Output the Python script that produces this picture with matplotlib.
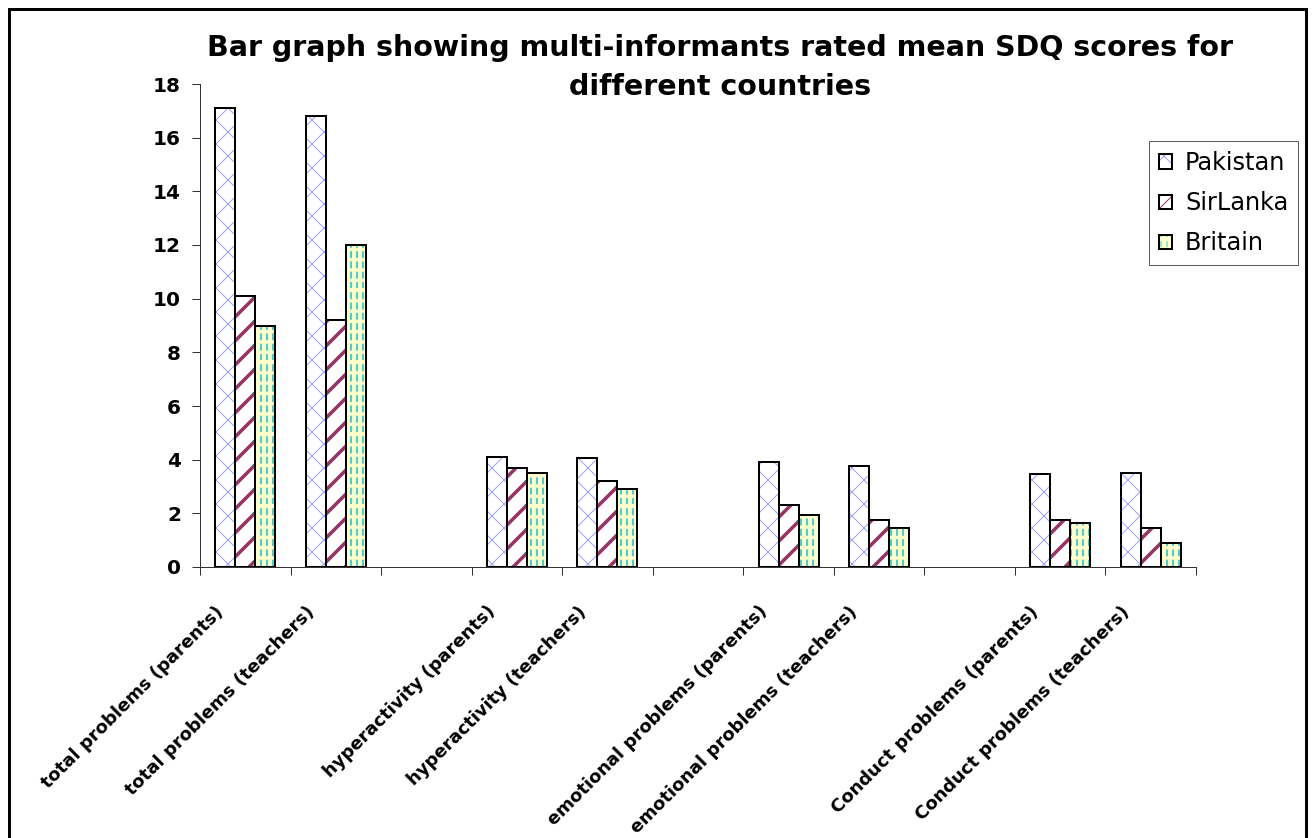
#!/usr/bin/env python3

import matplotlib
matplotlib.use('Agg')
import matplotlib.hatch as mhatch
import matplotlib.pyplot as plt
import matplotlib.transforms as mtrans
from matplotlib.patches import Patch, Rectangle
from matplotlib.path import Path
import numpy as np

nan = np.nan

categories = ['total problems (parents)', 'total problems (teachers)', '',
              'hyperactivity (parents)', 'hyperactivity (teachers)', '',
              'emotional problems (parents)', 'emotional problems (teachers)', '',
              'Conduct problems (parents)', 'Conduct problems (teachers)']
pakistan = [17.1, 16.8, nan, 4.1, 4.05, nan, 3.9, 3.75, nan, 3.45, 3.5]
sirlanka = [10.1, 9.2, nan, 3.7, 3.2, nan, 2.3, 1.75, nan, 1.75, 1.45]
britain = [9.0, 12.0, nan, 3.5, 2.9, nan, 1.95, 1.45, nan, 1.65, 0.9]
series_names = ['Pakistan', 'SirLanka', 'Britain']
yticks = [0, 2, 4, 6, 8, 10, 12, 14, 16, 18]


class DashedVerticalHatch(mhatch.HatchPatternBase):
    # '|' drawn as dashed lines, like the old spreadsheet fill
    n_dash = 7

    def __init__(self, hatch, density):
        self.num_lines = int((hatch.count('|') + hatch.count('+')) * density)
        self.num_vertices = self.num_lines * self.n_dash * 2

    def set_vertices_and_codes(self, vertices, codes):
        xs = (np.arange(self.num_lines) + 0.5) / self.num_lines
        ys = np.arange(self.n_dash) / self.n_dash
        xx, yy = np.meshgrid(xs, ys, indexing='ij')
        xx = xx.ravel()
        yy = yy.ravel()
        vertices[0::2, 0] = xx
        vertices[0::2, 1] = yy
        vertices[1::2, 0] = xx
        vertices[1::2, 1] = yy + 0.5 / self.n_dash
        codes[0::2] = Path.MOVETO
        codes[1::2] = Path.LINETO


mhatch._hatch_types[mhatch._hatch_types.index(mhatch.VerticalHatch)] = DashedVerticalHatch

# (face colour, hatch colour, hatch, hatch width, legend hatch)
styles = [('white', '#A0A0FF', 'x', 1.0, 'x'),
          ('white', '#993366', '/', 3.5, '//'),
          ('#FFFFCC', '#33CCCC', '||', 1.8, '||')]

plt.rcParams['font.family'] = ['DejaVu Sans']

DPI = 72
fig = plt.figure(figsize=(1312 / DPI, 838 / DPI), dpi=DPI)
ax = fig.add_axes([200 / 1312, 1 - 567 / 838, 996 / 1312, 483 / 838])

x = np.arange(len(categories)) + 0.5
w = 0.221
handles = []
for i, (vals, name) in enumerate(zip([pakistan, sirlanka, britain], series_names)):
    face, hcol, hatch, hlw, lhatch = styles[i]
    xs = x + (i - 1) * w
    bars = ax.bar(xs, vals, w, color=face, edgecolor=hcol, linewidth=0, hatch=hatch)
    for b in bars:
        if hasattr(b, 'set_hatch_linewidth'):
            b.set_hatch_linewidth(hlw)
    ax.bar(xs, vals, w, fill=False, edgecolor='black', linewidth=2)
    hp = Patch(facecolor=face, edgecolor=hcol, linewidth=0, hatch=lhatch)
    if hasattr(hp, 'set_hatch_linewidth'):
        hp.set_hatch_linewidth(hlw)
    op = Patch(fill=False, edgecolor='black', linewidth=2)
    handles.append((hp, op))

ax.set_xlim(0, len(categories))
ax.set_ylim(0, 18)
ax.set_yticks(yticks)
ax.set_yticklabels([str(t) for t in yticks], fontsize=20, fontweight='bold')
ax.set_xticks(np.arange(len(categories) + 1))
ax.set_xticklabels([])
ax.set_xticks(x, minor=True)
ax.set_xticklabels(categories, minor=True, rotation=45, ha='right', va='center',
                   rotation_mode='anchor', fontsize=18, fontweight='bold')
ax.tick_params(axis='x', which='minor', length=0, pad=42)
ax.tick_params(axis='both', which='major', length=8, width=1, color='#333333', direction='out')
ax.tick_params(axis='y', pad=11)
shift = mtrans.ScaledTranslation(-24 / DPI, 0, fig.dpi_scale_trans)
for lab in ax.get_xticklabels(minor=True):
    lab.set_transform(lab.get_transform() + shift)
for s in ['top', 'right']:
    ax.spines[s].set_visible(False)
for s in ['left', 'bottom']:
    ax.spines[s].set_linewidth(1)
    ax.spines[s].set_color('#333333')

fig.text(720 / 1312, 1 - 95 / 838,
         'Bar graph showing multi-informants rated mean SDQ scores for\ndifferent countries',
         ha='center', va='baseline', fontsize=28.5, fontweight='bold', linespacing=1.48)

leg = fig.legend(handles, series_names, loc='upper left',
                 bbox_to_anchor=(1149 / 1312, 1 - 141 / 838),
                 fontsize=24, frameon=True, fancybox=False, edgecolor='#333333',
                 handlelength=0.54, handleheight=0.54, handletextpad=0.54,
                 labelspacing=0.67, borderpad=0.42, borderaxespad=0)
leg.get_frame().set_linewidth(1)

fig.patches.append(Rectangle((9 / 1312, -0.02), 1297 / 1312, 1.02 - 9 / 838,
                             transform=fig.transFigure, fill=False,
                             edgecolor='black', linewidth=3))

fig.savefig('out.png', dpi=DPI)
